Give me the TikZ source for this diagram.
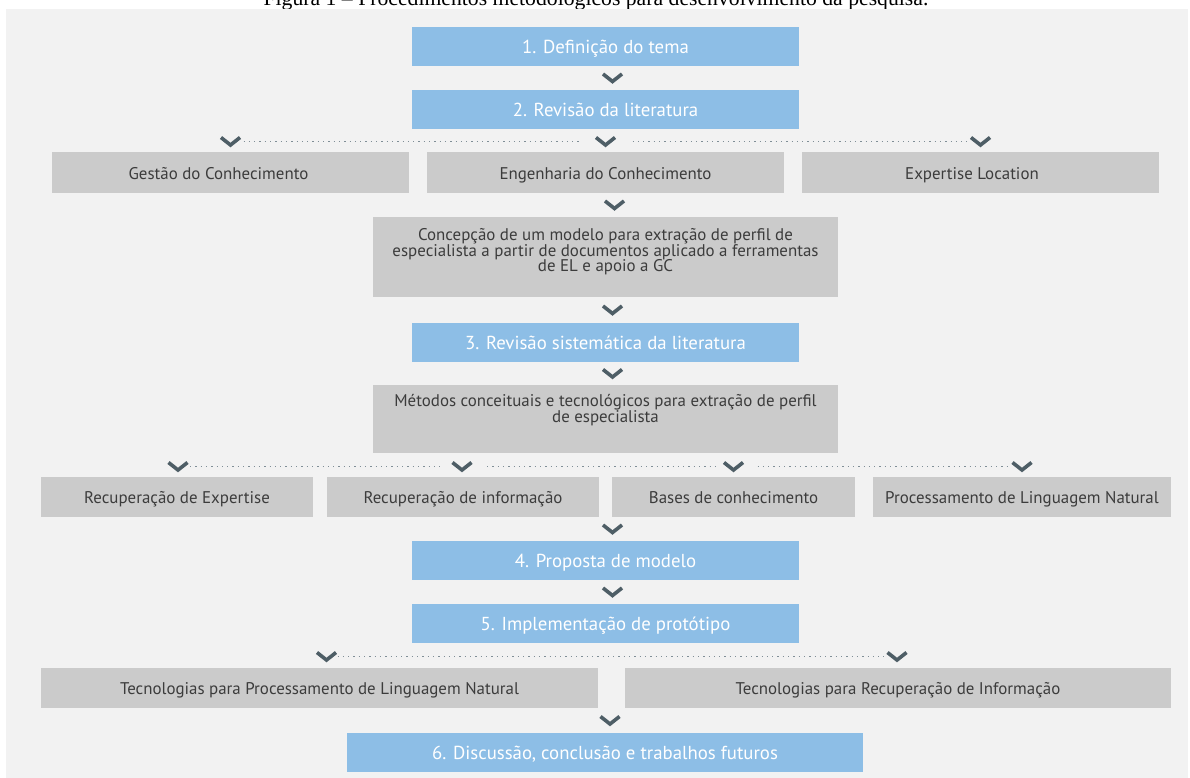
\documentclass[tikz,border=0pt]{standalone}
\usepackage{fontspec}
\setmainfont{PT Sans}
\newfontfamily\capfont{Liberation Serif}
\usetikzlibrary{calc}
\definecolor{panel}{HTML}{F2F2F2}
\definecolor{bluefill}{HTML}{8DBEE6}
\definecolor{grayfill}{HTML}{CBCBCB}
\definecolor{chevcol}{HTML}{4E5E66}
\definecolor{dotcol}{HTML}{7F8E96}
\definecolor{graytext}{HTML}{3C3C3C}
\newcommand{\grayfont}{\fontsize{16.9}{15.6}\selectfont\setlength{\lineskiplimit}{-30pt}}
\begin{document}
\begin{tikzpicture}[x=1pt,y=-1pt,
  bluebox/.style={fill=bluefill, text=white, inner sep=0pt, outer sep=0pt, minimum height=39pt, text height=14pt, text depth=0pt, font=\fontsize{18.8}{14.5}\selectfont},
  graybox/.style={fill=grayfill, text=graytext, inner sep=0pt, outer sep=0pt, font=\grayfont, align=center},
  grayone/.style={graybox, text height=13pt, text depth=0pt},
  chevline/.style={draw=chevcol, line width=3.6pt, line join=miter},
  dotline/.style={draw=dotcol, line width=1.5pt, dash pattern=on 1.3pt off 4pt},
  pics/chev/.style={code={\draw[chevline] (-9.5,-4) -- (0,3.5) -- (9.5,-4);}}
]
\useasboundingbox (0,0) rectangle (1190,778);
\clip (0,0) rectangle (1190,778);
\fill[white] (0,0) rectangle (1190,778);
\node[anchor=base, font=\capfont\fontsize{21.7}{21.7}\selectfont] (cap) at (596,5.5) {Figura 1 – Procedimentos metodológicos para desenvolvimento da pesquisa.};
\fill[panel] (6,9) rectangle (1188,778);

% blue step boxes
\node[bluebox, minimum width=387pt] (b1) at (605.5,46.5) {1. Definição do tema};
\node[bluebox, minimum width=387pt] (b2) at (605.5,109.5) {2. Revisão da literatura};
\node[bluebox, minimum width=387pt] (b3) at (605.5,342.5) {3. Revisão sistemática da literatura};
\node[bluebox, minimum width=387pt] (b4) at (605.5,560.5) {4. Proposta de modelo};
\node[bluebox, minimum width=387pt] (b5) at (605.5,623.5) {5. Implementação de protótipo};
\node[bluebox, minimum width=516pt] (b6) at (605,752.5) {6. Discussão, conclusão e trabalhos futuros};

% gray boxes
\node[grayone, minimum width=357pt, minimum height=41pt] (g1) at (230.5,172.5) {Gestão do Conhecimento\hspace*{24pt}};
\node[grayone, minimum width=357pt, minimum height=41pt] (g2) at (605.5,172.5) {Engenharia do Conhecimento};
\node[grayone, minimum width=357pt, minimum height=41pt] (g3) at (980.5,172.5) {Expertise Location\hspace*{17pt}};
\node[graybox, minimum width=465pt, minimum height=80pt, text depth=14pt] (g4) at (605.5,257) {Concepção de um modelo para extração de perfil de\\especialista a partir de documentos aplicado a ferramentas\\de EL e apoio a GC};
\node[graybox, minimum width=465pt, minimum height=68pt, text depth=21pt] (g5) at (605.5,419) {Métodos conceituais e tecnológicos para extração de perfil\\de especialista};
\node[grayone, minimum width=272pt, minimum height=40pt] (g6) at (177,497) {Recuperação de Expertise};
\node[grayone, minimum width=272pt, minimum height=40pt] (g7) at (463,497) {Recuperação de informação};
\node[grayone, minimum width=243pt, minimum height=40pt] (g8) at (733.5,497) {Bases de conhecimento};
\node[grayone, minimum width=298pt, minimum height=40pt] (g9) at (1022,497) {Processamento de Linguagem Natural};
\node[grayone, minimum width=557pt, minimum height=40pt] (g10) at (319.5,688) {Tecnologias para Processamento de Linguagem Natural};
\node[grayone, minimum width=546pt, minimum height=40pt] (g11) at (898,688) {Tecnologias para Recuperação de Informação};

% chevron positions
\coordinate (c12) at ($($(b1.south)!0.5!(b2.north)$)+(7,0)$);
\coordinate (r1a) at ($(g1.north)+(0,-10.5)$);
\coordinate (r1b) at ($(g2.north)+(0,-10.5)$);
\coordinate (r1c) at ($(g3.north)+(0,-10.5)$);
\coordinate (c24) at ($($(g2.south)!0.5!(g4.north)$)+(9,0)$);
\coordinate (c43) at ($($(g4.south)!0.5!(b3.north)$)+(7,0)$);
\coordinate (c35) at ($($(b3.south)!0.5!(g5.north)$)+(7,0)$);
\coordinate (r2a) at ($(g6.north)+(1,-10.5)$);
\coordinate (r2b) at ($(g7.north)+(-1,-10.5)$);
\coordinate (r2c) at ($(g8.north)+(0,-10.5)$);
\coordinate (r2d) at ($(g9.north)+(0,-10.5)$);
\coordinate (c84) at ($(b4.north)+(7,-12)$);
\coordinate (c45) at ($($(b4.south)!0.5!(b5.north)$)+(7,0)$);
\coordinate (r3a) at ($(g10.north)+(7,-11.5)$);
\coordinate (r3b) at ($(g11.north)+(-1,-11.5)$);
\coordinate (c16) at ($(b6.north)+(5,-12.5)$);

% dotted fan-out lines
\draw[dotline] ($(r1a)+(13,0)$) -- ($(r1b)+(-24,0)$);
\draw[dotline] ($(r1b)+(27,0)$) -- ($(r1c)+(-14,0)$);
\draw[dotline] ($(r2a)+(12,0)$) -- ($(r2b)+(-22,0)$);
\draw[dotline] ($(r2b)+(25,0)$) -- ($(r2c)+(-18,0)$);
\draw[dotline] ($(r2c)+(24,0)$) -- ($(r2d)+(-12,0)$);
\draw[dotline] ($(r3a)+(11,0)$) -- ($(r3b)+(-13,0)$);

% chevrons
\foreach \c in {c12,r1a,r1b,r1c,c24,c43,c35,r2a,r2b,r2c,r2d,c84,c45,r3a,r3b,c16}
  \pic at (\c) {chev};
\end{tikzpicture}
\end{document}
